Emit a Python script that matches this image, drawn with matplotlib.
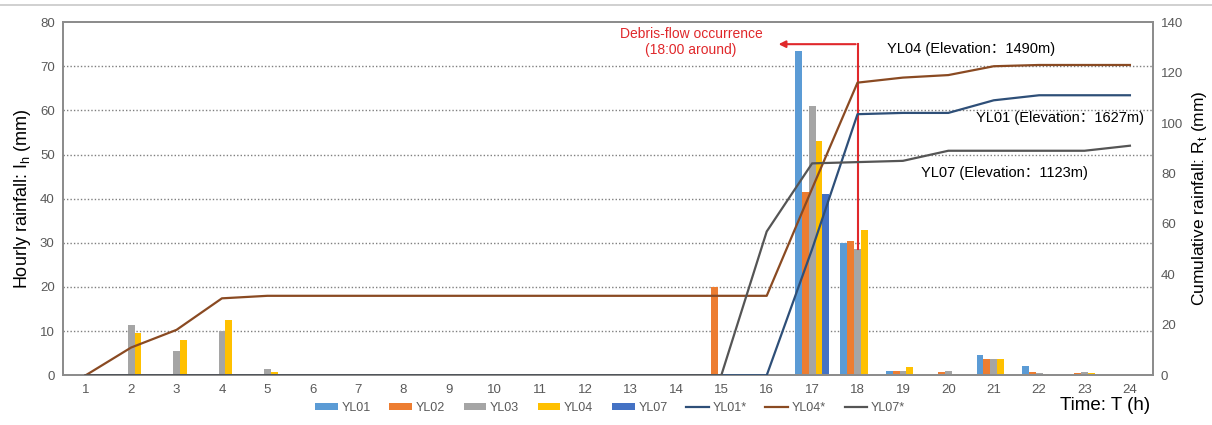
import matplotlib
matplotlib.use("Agg")
import matplotlib.pyplot as plt
from matplotlib.lines import Line2D
import numpy as np

plt.rcParams['font.family'] = ['Liberation Sans', 'Noto Sans CJK SC', 'DejaVu Sans']

hours = list(range(1, 25))
hour_labels = [str(h) for h in hours]

# Hourly rainfall (mm)
yl01 = [0, 0, 0, 0, 0, 0, 0, 0, 0, 0, 0, 0, 0, 0, 0, 0, 73.5, 30, 1, 0, 4.5, 2.2, 0, 0]
yl02 = [0, 0, 0, 0, 0, 0, 0, 0, 0, 0, 0, 0, 0, 0, 20, 0, 41.5, 30.5, 1, 0.8, 3.7, 0.8, 0.5, 0]
yl03 = [0, 11.5, 5.5, 10, 1.5, 0, 0, 0, 0, 0, 0, 0, 0, 0, 0, 0, 61, 28.5, 1, 1, 3.7, 0.5, 0.8, 0]
yl04 = [0, 9.5, 8, 12.5, 0.8, 0, 0, 0, 0, 0, 0, 0, 0, 0, 0, 0, 53, 33, 1.8, 0.3, 3.7, 0.3, 0.6, 0]
yl07 = [0, 0, 0, 0, 0, 0, 0, 0, 0, 0, 0, 0, 0, 0, 0, 0, 41, 0, 0, 0, 0, 0, 0, 0]

# Cumulative rainfall (mm)
yl01_cum = [0, 0, 0, 0, 0, 0, 0, 0, 0, 0, 0, 0, 0, 0, 0, 0, 50, 103.5, 104, 104, 109, 111, 111, 111]
yl04_cum = [0, 11, 18, 30.5, 31.5, 31.5, 31.5, 31.5, 31.5, 31.5, 31.5, 31.5, 31.5, 31.5, 31.5, 31.5,
            74, 116, 118, 119, 122.5, 123, 123, 123]
yl07_cum = [0, 0, 0, 0, 0, 0, 0, 0, 0, 0, 0, 0, 0, 0, 0, 57, 84, 84.5, 85, 89, 89, 89, 89, 91]

bar_series = [("YL01", yl01, "#5B9BD5"), ("YL02", yl02, "#ED7D31"), ("YL03", yl03, "#A5A5A5"),
              ("YL04", yl04, "#FFC000"), ("YL07", yl07, "#4472C4")]
line_series = [("YL01*", yl01_cum, "#2E4F78"), ("YL04*", yl04_cum, "#8A4A22"),
               ("YL07*", yl07_cum, "#555555")]

fig = plt.figure(figsize=(12.12, 4.25), dpi=100)
ax = fig.add_axes([0.052, 0.117, 0.899, 0.831])
ax2 = ax.twinx()

x = np.array(hours, dtype=float)
bw = 0.15
handles = []
for i, (name, vals, col) in enumerate(bar_series):
    h = ax.bar(x + (i - 2) * bw, vals, width=bw, color=col, label=name, zorder=2)
    handles.append(h)

for name, vals, col in line_series:
    ln, = ax2.plot(x, vals, color=col, lw=1.6, label=name, zorder=3)
    handles.append(ln)

ax.set_xlim(0.5, 24.5)
ax.set_ylim(0, 80)
ax2.set_ylim(0, 140)
ax.set_xticks(x)
ax.set_xticklabels(hour_labels)
ax.set_yticks(range(0, 81, 10))
ax2.set_yticks(range(0, 141, 20))

for yv in range(10, 80, 10):
    ax.axhline(yv, color="#7F7F7F", lw=1.0, ls=(0, (1, 1.5)), zorder=1)

grey = "#8C8C8C"
for a in (ax, ax2):
    for s in a.spines.values():
        s.set_color(grey)
        s.set_linewidth(1.3)
    a.tick_params(length=0, labelsize=9.5, labelcolor="#595959", pad=6)

ax.set_ylabel("Hourly rainfall: I$_\\mathregular{h}$ (mm)", fontsize=13, labelpad=5)
ax2.set_ylabel("Cumulative rainfall: R$_\\mathregular{t}$ (mm)", fontsize=12.5, labelpad=5)

# Debris-flow marker
red = "#E0282B"
ax.plot([18, 18], [28.5, 75], color=red, lw=1.5, zorder=4)
ax.annotate("", xy=(16.2, 75), xytext=(18.02, 75),
            arrowprops=dict(arrowstyle="-|>", color=red, lw=1.5, mutation_scale=10),
            zorder=4)
ax.text(14.33, 78.8, "Debris-flow occurrence\n(18:00 around)", color=red, fontsize=10,
        ha="center", va="top", linespacing=1.15)

# Station labels
ax2.text(18.64, 129.5, "YL04 (Elevation：1490m)", fontsize=10.5, ha="left", va="center")
ax2.text(20.6, 102, "YL01 (Elevation：1627m)", fontsize=10.5, ha="left", va="center")
ax2.text(19.4, 80, "YL07 (Elevation：1123m)", fontsize=10.5, ha="left", va="center")

fig.legend(handles=handles, labels=[h.get_label() for h in handles], loc="center",
           bbox_to_anchor=(610 / 1212, 1 - 408 / 425), ncol=8, frameon=False, fontsize=9,
           handlelength=1.8, handleheight=0.5, handletextpad=0.3, columnspacing=1.5,
           labelcolor="#595959")

fig.text(1150 / 1212, 1 - 405 / 425, "Time: T (h)", fontsize=13.5, ha="right", va="center")

fig.add_artist(Line2D([0, 1], [1 - 5 / 425, 1 - 5 / 425], color="#C8C8C8", lw=1.2))

fig.savefig("out.png", dpi=100)
